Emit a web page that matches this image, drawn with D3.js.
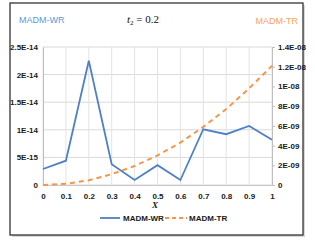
<!DOCTYPE html>
<html>
<head>
<meta charset="utf-8">
<script src="https://cdn.jsdelivr.net/npm/d3@7"></script>
<style>
body { margin: 0; background: #fff; }
svg text { font-family: "Liberation Sans Narrow", "Liberation Sans", Arial, sans-serif; }
</style>
</head>
<body>
<svg id="mysvg" width="315" height="245"></svg>
<script>
// values
let xvals = [0, 0.1, 0.2, 0.3, 0.4, 0.5, 0.6, 0.7, 0.8, 0.9, 1];
let wrvals = [2.9e-15, 4.4e-15, 2.25e-14, 3.75e-15, 9e-16, 3.6e-15, 9e-16, 1.01e-14, 9.2e-15, 1.07e-14, 8.2e-15];
let trvals = [0, 1.2e-10, 4.8e-10, 1.1e-9, 1.93e-9, 3e-9, 4.3e-9, 5.9e-9, 7.7e-9, 9.8e-9, 1.21e-8];
let leftTicks = [0, 5e-15, 1e-14, 1.5e-14, 2e-14, 2.5e-14];
let leftLabels = ["0", "5E-15", "1E-14", "1.5E-14", "2E-14", "2.5E-14"];
let rightTicks = [0, 2e-9, 4e-9, 6e-9, 8e-9, 1e-8, 1.2e-8, 1.4e-8];
let rightLabels = ["0", "2E-09", "4E-09", "6E-09", "8E-09", "1E-08", "1.2E-08", "1.4E-08"];

let blue = "#4f81c4";
let orange = "#f79646";
let narrow = "'Liberation Sans Narrow', 'Liberation Sans', Arial, sans-serif";

var svg = d3.select("svg");

// outer frame
svg.append("rect")
    .attr("x", 12).attr("y", 5)
    .attr("width", 293).attr("height", 232)
    .attr("fill", "#d8d8d8");
svg.append("rect")
    .attr("x", 10).attr("y", 3)
    .attr("width", 293).attr("height", 232)
    .attr("fill", "#fff")
    .attr("stroke", "#333")
    .attr("stroke-width", 1.3);

var pLeft = 43, pRight = 272, pTop = 47, pBottom = 185;

var x = d3.scaleLinear().domain([0, 1]).range([pLeft, pRight]);
var yl = d3.scaleLinear().domain([0, 2.5e-14]).range([pBottom, pTop]);
var yr = d3.scaleLinear().domain([0, 1.4e-8]).range([pBottom, pTop]);

var g = svg.append("g");

// grid
g.append("g")
    .selectAll("line")
    .data(leftTicks)
    .enter().append("line")
    .attr("x1", pLeft).attr("x2", pRight)
    .attr("y1", function(d) { return yl(d); })
    .attr("y2", function(d) { return yl(d); })
    .attr("stroke", "#d9d9d9").attr("stroke-width", 1);

g.append("g")
    .selectAll("line")
    .data(xvals)
    .enter().append("line")
    .attr("x1", function(d) { return x(d); })
    .attr("x2", function(d) { return x(d); })
    .attr("y1", pTop).attr("y2", pBottom)
    .attr("stroke", "#e3e3e3").attr("stroke-width", 1);

// axes
var axL = g.append("g")
    .attr("transform", "translate(" + pLeft + ",0)")
    .call(d3.axisLeft(yl).tickValues(leftTicks)
        .tickFormat(function(d, i) { return leftLabels[i]; })
        .tickSize(0).tickPadding(5));
var axR = g.append("g")
    .attr("transform", "translate(" + pRight + ",0)")
    .call(d3.axisRight(yr).tickValues(rightTicks)
        .tickFormat(function(d, i) { return rightLabels[i]; })
        .tickSize(3).tickPadding(3));
var axB = g.append("g")
    .attr("transform", "translate(0," + pBottom + ")")
    .call(d3.axisBottom(x).tickValues(xvals)
        .tickFormat(function(d) { return d === 0 || d === 1 ? d : d.toFixed(1); })
        .tickSize(0).tickPadding(8));

[axL, axR, axB].forEach(function(a) {
    a.selectAll("text").attr("fill", "#1a1a1a").attr("font-size", "8px")
        .attr("font-weight", "bold")
        .style("font-family", narrow);
    a.select(".domain").attr("stroke", "#bfbfbf");
    a.selectAll(".tick line").attr("stroke", "#bfbfbf");
});
axB.select(".domain").attr("stroke", "#c8c8c8");

// series
var lineWR = d3.line()
    .x(function(d, i) { return x(xvals[i]); })
    .y(function(d) { return yl(d); });
var lineTR = d3.line()
    .x(function(d, i) { return x(xvals[i]); })
    .y(function(d) { return yr(d); });

g.append("path")
    .datum(trvals)
    .attr("fill", "none")
    .attr("stroke", orange)
    .attr("stroke-width", 2)
    .attr("stroke-dasharray", "5,4")
    .attr("d", lineTR);

g.append("path")
    .datum(wrvals)
    .attr("fill", "none")
    .attr("stroke", blue)
    .attr("stroke-width", 1.8)
    .attr("stroke-linejoin", "miter")
    .attr("d", lineWR);

// titles
svg.append("text")
    .attr("x", 19).attr("y", 23)
    .attr("fill", "#5b9bd5").attr("font-size", "9px")
    .text("MADM-WR");
svg.append("text")
    .attr("x", 298).attr("y", 24)
    .attr("text-anchor", "end")
    .attr("fill", "#f8a462").attr("font-size", "9px")
    .text("MADM-TR");

var t2 = svg.append("text")
    .attr("x", 127).attr("y", 23)
    .attr("fill", "#111").attr("font-size", "11px")
    .style("font-family", "'Liberation Serif', 'Times New Roman', serif");
t2.append("tspan").attr("font-style", "italic").text("t");
t2.append("tspan").attr("font-size", "7px").attr("dy", 2).text("2");
t2.append("tspan").attr("dy", -2).text(" = 0.2");

svg.append("text")
    .attr("x", 155).attr("y", 208)
    .attr("text-anchor", "middle")
    .attr("fill", "#222").attr("font-size", "9px")
    .attr("font-style", "italic").attr("font-weight", "bold")
    .style("font-family", "'Liberation Serif', 'Times New Roman', serif")
    .text("X");

// legend
var lg = svg.append("g");
lg.append("line")
    .attr("x1", 100).attr("x2", 120).attr("y1", 218).attr("y2", 218)
    .attr("stroke", blue).attr("stroke-width", 1.8);
lg.append("text")
    .attr("x", 123).attr("y", 221)
    .attr("fill", "#1a1a1a").attr("font-size", "8px").attr("font-weight", "bold")
    .text("MADM-WR");
lg.append("line")
    .attr("x1", 165).attr("x2", 187).attr("y1", 218).attr("y2", 218)
    .attr("stroke", orange).attr("stroke-width", 2)
    .attr("stroke-dasharray", "4,3");
lg.append("text")
    .attr("x", 189).attr("y", 221)
    .attr("fill", "#1a1a1a").attr("font-size", "8px").attr("font-weight", "bold")
    .text("MADM-TR");
</script>
</body>
</html>
